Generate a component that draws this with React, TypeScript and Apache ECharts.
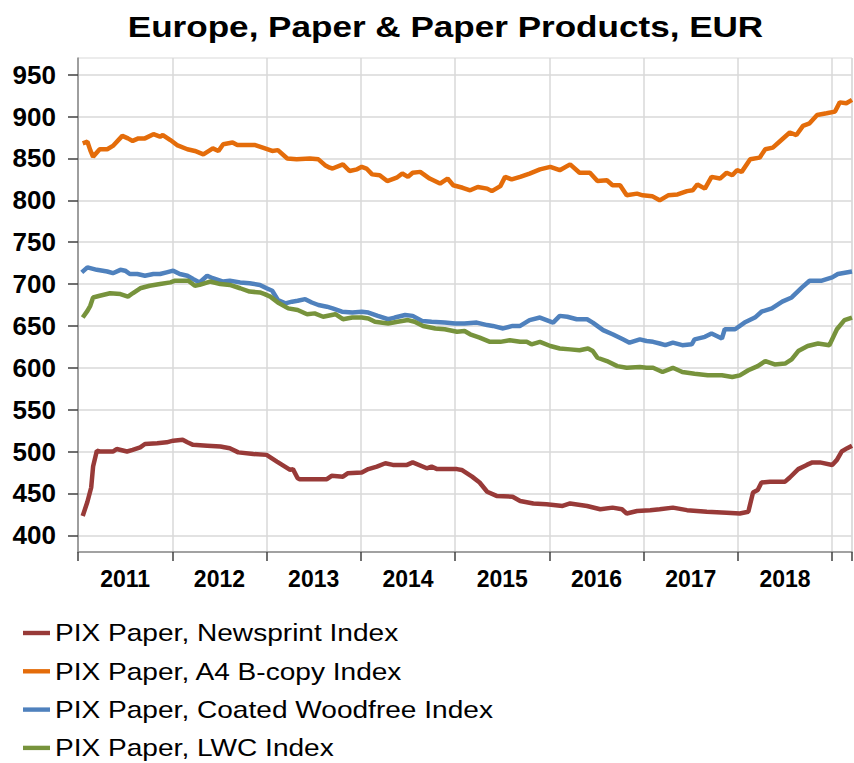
import { useEffect, useRef } from "react";
import * as echarts from "echarts";

const FONT = "Liberation Sans, Arial, sans-serif";
const titleText = "Europe, Paper & Paper Products, EUR";
const seriesNames = [
  "PIX Paper, Newsprint Index",
  "PIX Paper, A4 B-copy Index",
  "PIX Paper, Coated Woodfree Index",
  "PIX Paper, LWC Index",
];
const seriesColors = ["#983a38", "#e46c0a", "#4f81bd", "#77933c"];
const yTicks = [400, 450, 500, 550, 600, 650, 700, 750, 800, 850, 900, 950];
const yearLabels = [2011, 2012, 2013, 2014, 2015, 2016, 2017, 2018];

const newsprint: [number, number][] = [
  [2011.05, 423], [2011.10, 440], [2011.14, 457], [2011.16, 482], [2011.20, 501],
  [2011.23, 500], [2011.37, 500], [2011.41, 503], [2011.52, 500], [2011.58, 502],
  [2011.66, 505], [2011.71, 509], [2011.84, 510], [2011.94, 511], [2012.01, 513],
  [2012.11, 514], [2012.16, 511], [2012.22, 508], [2012.37, 507], [2012.51, 506],
  [2012.61, 504], [2012.70, 499], [2012.86, 497], [2013.00, 496], [2013.11, 488],
  [2013.25, 478], [2013.28, 479], [2013.33, 468], [2013.35, 467], [2013.64, 467],
  [2013.69, 471], [2013.81, 470], [2013.86, 474], [2014.01, 475], [2014.08, 479],
  [2014.17, 482], [2014.26, 486], [2014.34, 484], [2014.49, 484], [2014.55, 487],
  [2014.70, 480], [2014.75, 482], [2014.81, 479], [2015.02, 479], [2015.07, 478],
  [2015.18, 470], [2015.26, 463], [2015.34, 452], [2015.44, 447], [2015.61, 446],
  [2015.69, 441], [2015.83, 438], [2015.97, 437], [2016.14, 435], [2016.22, 438],
  [2016.40, 435], [2016.54, 431], [2016.67, 433], [2016.77, 431], [2016.82, 426],
  [2016.93, 429], [2017.07, 430], [2017.17, 431], [2017.31, 433], [2017.46, 430],
  [2017.67, 428], [2017.88, 427], [2018.02, 426], [2018.11, 428], [2018.16, 451],
  [2018.21, 454], [2018.25, 463], [2018.34, 464], [2018.50, 464], [2018.55, 469],
  [2018.64, 479], [2018.73, 484], [2018.79, 487], [2018.87, 487], [2019.00, 484],
  [2019.05, 490], [2019.10, 500], [2019.16, 504], [2019.21, 507],
];

const a4bcopy: [number, number][] = [
  [2011.05, 868], [2011.10, 870], [2011.13, 860], [2011.16, 852], [2011.23, 861],
  [2011.31, 861], [2011.37, 865], [2011.47, 877], [2011.53, 874], [2011.58, 871],
  [2011.64, 874], [2011.71, 874], [2011.80, 879], [2011.87, 876], [2011.90, 878],
  [2011.98, 872], [2012.05, 866], [2012.16, 861], [2012.24, 859], [2012.33, 855],
  [2012.43, 862], [2012.49, 859], [2012.54, 867], [2012.64, 869], [2012.69, 866],
  [2012.88, 866], [2012.96, 863], [2013.06, 859], [2013.12, 860], [2013.22, 850],
  [2013.32, 849], [2013.46, 850], [2013.55, 849], [2013.62, 842], [2013.67, 839],
  [2013.70, 838], [2013.81, 843], [2013.88, 835], [2013.96, 837], [2014.01, 840],
  [2014.06, 838], [2014.12, 831], [2014.20, 830], [2014.28, 823], [2014.38, 827],
  [2014.44, 832], [2014.50, 828], [2014.55, 833], [2014.63, 834], [2014.73, 826],
  [2014.84, 820], [2014.92, 826], [2014.98, 818], [2015.08, 815], [2015.16, 812],
  [2015.24, 816], [2015.34, 814], [2015.39, 811], [2015.48, 817], [2015.53, 828],
  [2015.60, 825], [2015.69, 828], [2015.79, 832], [2015.90, 837], [2016.01, 840],
  [2016.11, 836], [2016.22, 843], [2016.32, 833], [2016.43, 833], [2016.51, 823],
  [2016.61, 824], [2016.67, 818], [2016.75, 818], [2016.82, 806], [2016.93, 808],
  [2016.99, 806], [2017.09, 805], [2017.17, 800], [2017.26, 806], [2017.36, 807],
  [2017.46, 811], [2017.52, 812], [2017.57, 819], [2017.65, 814], [2017.72, 828],
  [2017.81, 826], [2017.88, 833], [2017.94, 830], [2017.99, 836], [2018.04, 834],
  [2018.13, 849], [2018.23, 851], [2018.29, 861], [2018.37, 863], [2018.44, 870],
  [2018.55, 881], [2018.62, 878], [2018.69, 889], [2018.76, 892], [2018.84, 902],
  [2018.94, 904], [2019.03, 906], [2019.08, 917], [2019.15, 916], [2019.21, 920],
];

const coatedWoodfree: [number, number][] = [
  [2011.04, 714], [2011.10, 720], [2011.20, 717], [2011.31, 715], [2011.37, 713],
  [2011.45, 717], [2011.50, 716], [2011.55, 712], [2011.63, 712], [2011.71, 710],
  [2011.80, 712], [2011.87, 712], [2011.94, 714], [2012.01, 716], [2012.08, 712],
  [2012.16, 710], [2012.22, 706], [2012.29, 702], [2012.37, 710], [2012.43, 707],
  [2012.54, 703], [2012.61, 704], [2012.72, 702], [2012.82, 701], [2012.93, 699],
  [2013.00, 695], [2013.06, 692], [2013.12, 681], [2013.20, 677], [2013.27, 679],
  [2013.33, 680], [2013.41, 682], [2013.48, 678], [2013.55, 675], [2013.64, 673],
  [2013.70, 671], [2013.80, 667], [2013.91, 666], [2014.01, 667], [2014.08, 666],
  [2014.18, 662], [2014.29, 658], [2014.36, 660], [2014.47, 663], [2014.55, 662],
  [2014.65, 656], [2014.75, 655], [2014.89, 654], [2015.00, 653], [2015.10, 653],
  [2015.23, 654], [2015.34, 651], [2015.40, 650], [2015.51, 647], [2015.61, 650],
  [2015.69, 650], [2015.79, 657], [2015.90, 660], [2015.97, 657], [2016.04, 654],
  [2016.11, 662], [2016.19, 661], [2016.29, 658], [2016.40, 658], [2016.46, 654],
  [2016.57, 645], [2016.67, 640], [2016.78, 634], [2016.85, 630], [2016.96, 634],
  [2017.03, 632], [2017.10, 631], [2017.17, 629], [2017.23, 627], [2017.31, 630],
  [2017.41, 627], [2017.51, 628], [2017.54, 634], [2017.65, 637], [2017.72, 641],
  [2017.83, 635], [2017.86, 646], [2017.97, 646], [2018.07, 654], [2018.18, 660],
  [2018.25, 667], [2018.36, 671], [2018.47, 679], [2018.57, 684], [2018.68, 696],
  [2018.76, 704], [2018.89, 704], [2019.00, 708], [2019.06, 712], [2019.21, 715],
];

const lwc: [number, number][] = [
  [2011.05, 660], [2011.10, 668], [2011.13, 674], [2011.16, 684], [2011.23, 686],
  [2011.34, 689], [2011.45, 688], [2011.53, 685], [2011.58, 689], [2011.66, 695],
  [2011.76, 698], [2011.87, 700], [2011.98, 702], [2012.03, 704], [2012.11, 704],
  [2012.17, 704], [2012.24, 698], [2012.29, 699], [2012.40, 703], [2012.51, 700],
  [2012.61, 699], [2012.72, 695], [2012.82, 691], [2012.93, 690], [2012.98, 688],
  [2013.04, 685], [2013.12, 678], [2013.23, 671], [2013.33, 669], [2013.43, 664],
  [2013.51, 665], [2013.60, 661], [2013.73, 664], [2013.81, 658], [2013.91, 660],
  [2014.01, 660], [2014.08, 659], [2014.15, 655], [2014.29, 653], [2014.39, 655],
  [2014.50, 657], [2014.57, 655], [2014.66, 650], [2014.79, 647], [2014.89, 646],
  [2015.02, 643], [2015.10, 644], [2015.16, 640], [2015.26, 636], [2015.37, 631],
  [2015.48, 631], [2015.58, 633], [2015.69, 631], [2015.76, 631], [2015.81, 628],
  [2015.90, 631], [2016.01, 626], [2016.11, 623], [2016.22, 622], [2016.32, 621],
  [2016.41, 623], [2016.46, 620], [2016.51, 612], [2016.61, 608], [2016.72, 602],
  [2016.82, 600], [2016.96, 601], [2017.03, 600], [2017.10, 600], [2017.20, 595],
  [2017.31, 600], [2017.41, 595], [2017.54, 593], [2017.68, 591], [2017.83, 591],
  [2017.94, 589], [2018.02, 591], [2018.11, 597], [2018.21, 602], [2018.29, 608],
  [2018.39, 604], [2018.50, 605], [2018.57, 610], [2018.64, 620], [2018.74, 626],
  [2018.85, 629], [2018.97, 627], [2019.05, 646], [2019.13, 657], [2019.21, 660],
];

const seriesData = [newsprint, a4bcopy, coatedWoodfree, lwc];

export default function App() {
  const ref = useRef<HTMLDivElement>(null);
  useEffect(() => {
    if (!ref.current) return;
    const chart = echarts.init(ref.current, null, { renderer: "svg" });
    const legendTop = 633;
    const legendStep = 38.3;
    const legendGraphics = seriesNames.map((name, i) => ({
      type: "group",
      x: 0,
      y: legendTop + i * legendStep,
      children: [
        {
          type: "rect",
          shape: { x: 23, y: -2.2, width: 27, height: 4.4 },
          style: { fill: seriesColors[i] },
        },
        {
          type: "text",
          x: 55,
          y: 0,
          scaleX: 1.17,
          style: {
            text: name,
            font: `24px ${FONT}`,
            fill: "#000000",
            textAlign: "left",
            textVerticalAlign: "middle",
          },
        },
      ],
    }));
    chart.setOption({
      animation: false,
      backgroundColor: "#ffffff",
      textStyle: { fontFamily: FONT },
      graphic: [
        {
          type: "text",
          x: 445.5,
          y: 26,
          scaleX: 1.17,
          style: {
            text: titleText,
            font: `bold 30px ${FONT}`,
            fill: "#000000",
            textAlign: "center",
            textVerticalAlign: "middle",
          },
        },
        ...legendGraphics,
      ],
      grid: {
        left: 78,
        top: 58,
        right: 2,
        bottom: 211,
        show: true,
        borderColor: "#d9d9d9",
        borderWidth: 1,
      },
      xAxis: {
        type: "value",
        min: 2011,
        max: 2019.21,
        interval: 1,
        axisLine: { show: true, lineStyle: { color: "#898989", width: 1.5 } },
        axisTick: { show: true, length: 9, lineStyle: { color: "#404040", width: 1.5 } },
        splitLine: { show: true, lineStyle: { color: "#d9d9d9", width: 1.5 } },
        axisLabel: {
          customValues: yearLabels.map((y) => y + 0.5),
          formatter: (v: number) => String(Math.floor(v)),
          fontSize: 23,
          fontWeight: "bold",
          color: "#000000",
          fontFamily: FONT,
          margin: 15,
        },
      },
      yAxis: {
        type: "value",
        min: 380,
        max: 970,
        axisLine: { show: true, lineStyle: { color: "#898989", width: 1.5 } },
        axisTick: { show: true, customValues: yTicks, length: 10, lineStyle: { color: "#404040", width: 1.5 } },
        splitLine: { show: true, lineStyle: { color: "#d9d9d9", width: 1.5 } },
        axisLabel: {
          customValues: yTicks,
          fontSize: 26,
          fontWeight: "bold",
          color: "#000000",
          fontFamily: FONT,
          margin: 22,
        },
      },
      series: seriesNames.map((name, i) => ({
        name,
        type: "line",
        data: seriesData[i],
        showSymbol: false,
        symbol: "none",
        color: seriesColors[i],
        lineStyle: { width: 4.5, color: seriesColors[i] },
        z: 3 + i,
      })),
    });
    return () => chart.dispose();
  }, []);
  return (
    <div
      ref={ref}
      style={{ position: "fixed", left: 0, top: 0, width: 854, height: 763 }}
    />
  );
}
